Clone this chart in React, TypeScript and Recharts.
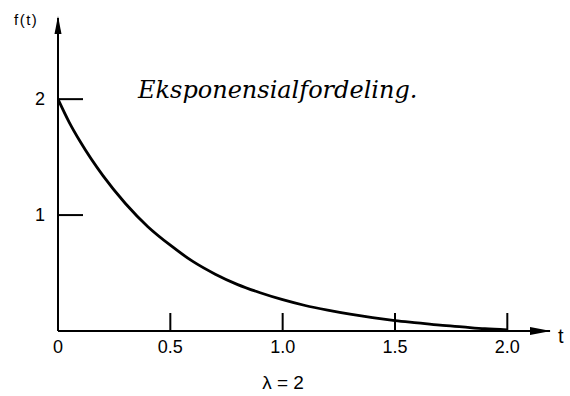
import React from 'react';
import { LineChart, Line, XAxis, YAxis } from 'recharts';

// values (lambda = 2)
const tValues = [0, 0.05, 0.1, 0.2, 0.3, 0.4, 0.5, 0.6, 0.7, 0.8, 0.9, 1.0, 1.1, 1.2, 1.3, 1.4, 1.5, 1.6, 1.7, 1.8, 1.9, 2.0];
const fValues = [2.0, 1.8, 1.63, 1.34, 1.1, 0.9, 0.74, 0.6, 0.49, 0.4, 0.33, 0.27, 0.22, 0.18, 0.145, 0.115, 0.09, 0.07, 0.05, 0.035, 0.02, 0.01];

const xTicks = [0, 0.5, 1.0, 1.5, 2.0];
const xTickLabels = ['0', '0.5', '1.0', '1.5', '2.0'];
const yTicks = [1, 2];
const yTickLabels = ['1', '2'];

const data = tValues.map((t, i) => ({ t, f: fValues[i] }));

const labelFont = '"Liberation Sans", Arial, sans-serif';

const XTick = (props: any) => {
  const { x, y, payload } = props;
  const i = xTicks.indexOf(payload.value);
  return (
    <g>
      {payload.value !== 0 && (
        <line x1={x} y1={y} x2={x} y2={y - 18} stroke="#000" strokeWidth={2} />
      )}
      <text x={x} y={y + 22} textAnchor="middle" fontFamily={labelFont} fontSize={18} fill="#000">
        {xTickLabels[i]}
      </text>
    </g>
  );
};

const YTick = (props: any) => {
  const { x, y, payload } = props;
  const i = yTicks.indexOf(payload.value);
  return (
    <g>
      <line x1={x} y1={y} x2={x + 25} y2={y} stroke="#000" strokeWidth={2} />
      <text x={x - 18} y={y + 6} textAnchor="middle" fontFamily={labelFont} fontSize={18} fill="#000">
        {yTickLabels[i]}
      </text>
    </g>
  );
};

export default function App() {
  return (
    <div style={{ position: 'absolute', left: 0, top: 0, width: 570, height: 396, background: '#fff' }}>
      <LineChart width={570} height={396} data={data} margin={{ top: 18, right: 20, bottom: 35, left: 0 }}>
        <XAxis
          type="number"
          dataKey="t"
          domain={[0, 2.19]}
          ticks={xTicks}
          interval={0}
          height={30}
          tickSize={0}
          tickMargin={0}
          tick={<XTick />}
          axisLine={{ stroke: '#000', strokeWidth: 2 }}
          allowDataOverflow
        />
        <YAxis
          type="number"
          domain={[0, 2.7]}
          ticks={yTicks}
          interval={0}
          width={58}
          tickSize={0}
          tickMargin={0}
          tick={<YTick />}
          axisLine={{ stroke: '#000', strokeWidth: 2 }}
          allowDataOverflow
        />
        <Line
          type="monotone"
          dataKey="f"
          stroke="#000"
          strokeWidth={2.8}
          dot={false}
          isAnimationActive={false}
        />
      </LineChart>
      <svg
        width={570}
        height={396}
        style={{ position: 'absolute', left: 0, top: 0, pointerEvents: 'none' }}
      >
        {/* arrow heads at the ends of the axes */}
        <path d="M530,327 L551,331 L530,335 z" fill="#000" />
        <path d="M54.5,34 L58,16 L61.5,34 z" fill="#000" />
        <text x={14} y={25} fontFamily={labelFont} fontSize={15} letterSpacing={1.5} fill="#000">f(t)</text>
        <text x={558} y={343} fontFamily={labelFont} fontSize={20} fill="#000">t</text>
        <text x={283} y={389} textAnchor="middle" fontFamily={labelFont} fontSize={19} fill="#000">λ = 2</text>
        <text x={138} y={98} fontFamily='"DejaVu Serif", serif' fontStyle="italic" fontSize={24} fill="#000">
          Eksponensialfordeling.
        </text>
      </svg>
    </div>
  );
}
